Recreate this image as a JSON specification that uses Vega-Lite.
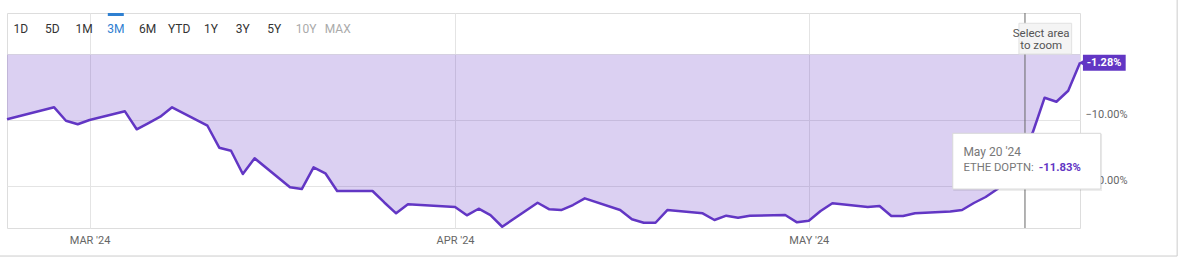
{
  "$schema": "https://vega.github.io/schema/vega-lite/v6.json",
  "width": 1073,
  "height": 215,
  "autosize": "none",
  "padding": {"left": 7, "top": 13, "right": 108, "bottom": 37},
  "background": "white",
  "config": {
    "view": {"stroke": "#dddddd", "strokeWidth": 1},
    "font": "Roboto",
    "axis": {"labelFont": "Roboto", "labelColor": "#666666", "labelFontSize": 11, "gridColor": "#e4e4e4", "domain": false, "ticks": false}
  },
  "datasets": {
    "series": [
      {"date": "2024-02-23", "value": -9.86},
      {"date": "2024-02-26", "value": -8.5},
      {"date": "2024-02-27", "value": -8.04},
      {"date": "2024-02-28", "value": -10.08},
      {"date": "2024-02-29", "value": -10.62},
      {"date": "2024-03-01", "value": -9.97},
      {"date": "2024-03-04", "value": -8.65},
      {"date": "2024-03-05", "value": -11.38},
      {"date": "2024-03-06", "value": -10.43},
      {"date": "2024-03-07", "value": -9.47},
      {"date": "2024-03-08", "value": -8.04},
      {"date": "2024-03-11", "value": -10.84},
      {"date": "2024-03-12", "value": -14.18},
      {"date": "2024-03-13", "value": -14.64},
      {"date": "2024-03-14", "value": -18.18},
      {"date": "2024-03-15", "value": -15.79},
      {"date": "2024-03-18", "value": -20.2},
      {"date": "2024-03-19", "value": -20.46},
      {"date": "2024-03-20", "value": -17.16},
      {"date": "2024-03-21", "value": -18.07},
      {"date": "2024-03-22", "value": -20.76},
      {"date": "2024-03-25", "value": -20.76},
      {"date": "2024-03-26", "value": -22.5},
      {"date": "2024-03-27", "value": -24.15},
      {"date": "2024-03-28", "value": -22.78},
      {"date": "2024-04-01", "value": -23.19},
      {"date": "2024-04-02", "value": -24.45},
      {"date": "2024-04-03", "value": -23.45},
      {"date": "2024-04-04", "value": -24.41},
      {"date": "2024-04-05", "value": -26.19},
      {"date": "2024-04-08", "value": -22.54},
      {"date": "2024-04-09", "value": -23.54},
      {"date": "2024-04-10", "value": -23.65},
      {"date": "2024-04-11", "value": -22.89},
      {"date": "2024-04-12", "value": -21.87},
      {"date": "2024-04-15", "value": -23.65},
      {"date": "2024-04-16", "value": -25.06},
      {"date": "2024-04-17", "value": -25.58},
      {"date": "2024-04-18", "value": -25.58},
      {"date": "2024-04-19", "value": -23.65},
      {"date": "2024-04-22", "value": -24.15},
      {"date": "2024-04-23", "value": -25.17},
      {"date": "2024-04-24", "value": -24.51},
      {"date": "2024-04-25", "value": -24.82},
      {"date": "2024-04-26", "value": -24.51},
      {"date": "2024-04-29", "value": -24.41},
      {"date": "2024-04-30", "value": -25.52},
      {"date": "2024-05-01", "value": -25.27},
      {"date": "2024-05-02", "value": -23.8},
      {"date": "2024-05-03", "value": -22.63},
      {"date": "2024-05-06", "value": -23.2},
      {"date": "2024-05-07", "value": -23.04},
      {"date": "2024-05-08", "value": -24.56},
      {"date": "2024-05-09", "value": -24.56},
      {"date": "2024-05-10", "value": -24.15},
      {"date": "2024-05-13", "value": -23.88},
      {"date": "2024-05-14", "value": -23.65},
      {"date": "2024-05-15", "value": -22.58},
      {"date": "2024-05-16", "value": -21.67},
      {"date": "2024-05-17", "value": -20.46},
      {"date": "2024-05-20", "value": -11.83},
      {"date": "2024-05-21", "value": -6.58},
      {"date": "2024-05-22", "value": -7.19},
      {"date": "2024-05-23", "value": -5.52},
      {"date": "2024-05-24", "value": -1.28}
    ],
    "buttons": [
      {"label": "1D", "state": "normal"},
      {"label": "5D", "state": "normal"},
      {"label": "1M", "state": "normal"},
      {"label": "3M", "state": "active"},
      {"label": "6M", "state": "normal"},
      {"label": "YTD", "state": "normal"},
      {"label": "1Y", "state": "normal"},
      {"label": "3Y", "state": "normal"},
      {"label": "5Y", "state": "normal"},
      {"label": "10Y", "state": "disabled"},
      {"label": "MAX", "state": "disabled"}
    ],
    "one": [{"k": 1}]
  },
  "layer": [
    {
      "layer": [
        {
          "data": {"name": "series"},
          "mark": {"type": "area", "color": "#6a3cc8", "opacity": 0.24},
          "encoding": {
            "x": {
              "field": "date", "type": "temporal", "title": null,
              "scale": {"type": "utc", "domain": [{"year": 2024, "month": 2, "date": 23, "utc": true}, {"year": 2024, "month": 5, "date": 24, "utc": true}]},
              "axis": {
                "values": [{"year": 2024, "month": 3, "date": 1, "utc": true}, {"year": 2024, "month": 4, "date": 1, "utc": true}, {"year": 2024, "month": 5, "date": 1, "utc": true}],
                "labelExpr": "upper(utcFormat(datum.value, \"%b '%y\"))",
                "grid": true, "labelPadding": 6
              }
            },
            "y": {
              "field": "value", "type": "quantitative", "title": null,
              "scale": {"domain": [-26.38, 6.29], "nice": false, "zero": false},
              "axis": {
                "orient": "right", "values": [0, -10, -20], "grid": true,
                "labelExpr": "datum.value == 0 ? '' : format(datum.value, '.2f') + '%'",
                "labelPadding": 5, "labelOffset": -6
              }
            },
            "y2": {"datum": 0}
          }
        },
        {
          "data": {"name": "series"},
          "mark": {"type": "line", "color": "#6236c4", "strokeWidth": 2.5, "strokeJoin": "round"},
          "encoding": {
            "x": {"field": "date", "type": "temporal"},
            "y": {"field": "value", "type": "quantitative"}
          }
        },
        {
          "data": {"name": "one"},
          "mark": {"type": "rule", "color": "#666666", "strokeWidth": 1},
          "encoding": {
            "x": {"datum": {"year": 2024, "month": 5, "date": 19, "hours": 8, "utc": true}, "type": "temporal"}
          }
        },
        {
          "data": {"name": "one"},
          "mark": {"type": "rect", "fill": "#f4f4f4", "stroke": "#e2e2e2", "strokeWidth": 1},
          "encoding": {
            "x": {"datum": {"year": 2024, "month": 5, "date": 18, "hours": 19, "minutes": 40, "utc": true}, "type": "temporal"},
            "x2": {"datum": {"year": 2024, "month": 5, "date": 23, "hours": 7, "utc": true}},
            "y": {"datum": 4.73},
            "y2": {"datum": 0.06}
          }
        },
        {
          "data": {"name": "one"},
          "mark": {"type": "text", "align": "center", "baseline": "middle", "fontSize": 11.5, "color": "#555555", "lineHeight": 12.3},
          "encoding": {
            "x": {"datum": {"year": 2024, "month": 5, "date": 20, "hours": 17, "utc": true}, "type": "temporal"},
            "y": {"datum": 3.1},
            "text": {"value": ["Select area", "to zoom"]}
          }
        },
        {
          "data": {"name": "series"},
          "transform": [{"filter": "datum.date == '2024-05-20'"}],
          "mark": {"type": "point", "filled": true, "color": "#6a3cc8", "opacity": 0.22, "size": 260},
          "encoding": {
            "x": {"field": "date", "type": "temporal"},
            "y": {"field": "value", "type": "quantitative"}
          }
        },
        {
          "data": {"name": "series"},
          "transform": [{"filter": "datum.date == '2024-05-20'"}],
          "mark": {"type": "point", "filled": true, "color": "#5b32bd", "opacity": 1, "size": 45},
          "encoding": {
            "x": {"field": "date", "type": "temporal"},
            "y": {"field": "value", "type": "quantitative"}
          }
        },
        {
          "data": {"name": "one"},
          "mark": {"type": "rect", "fill": "#000000", "opacity": 0.07},
          "encoding": {
            "x": {"datum": {"year": 2024, "month": 5, "date": 13, "hours": 6, "utc": true}, "type": "temporal"},
            "x2": {"datum": {"year": 2024, "month": 5, "date": 25, "hours": 21, "utc": true}},
            "y": {"datum": -12.1},
            "y2": {"datum": -20.75}
          }
        },
        {
          "data": {"name": "one"},
          "mark": {"type": "rect", "fill": "white", "stroke": "#d8d8d8", "strokeWidth": 1},
          "encoding": {
            "x": {"datum": {"year": 2024, "month": 5, "date": 13, "hours": 5, "utc": true}, "type": "temporal"},
            "x2": {"datum": {"year": 2024, "month": 5, "date": 25, "hours": 18, "minutes": 15, "utc": true}},
            "y": {"datum": -11.99},
            "y2": {"datum": -20.46}
          }
        },
        {
          "data": {"name": "one"},
          "mark": {"type": "text", "align": "left", "baseline": "middle", "fontSize": 12, "color": "#777777"},
          "encoding": {
            "x": {"datum": {"year": 2024, "month": 5, "date": 14, "hours": 2, "minutes": 40, "utc": true}, "type": "temporal"},
            "y": {"datum": -14.83},
            "text": {"value": "May 20 '24"}
          }
        },
        {
          "data": {"name": "one"},
          "mark": {"type": "text", "align": "left", "baseline": "middle", "fontSize": 11.3, "color": "#777777"},
          "encoding": {
            "x": {"datum": {"year": 2024, "month": 5, "date": 14, "hours": 2, "minutes": 40, "utc": true}, "type": "temporal"},
            "y": {"datum": -17.26},
            "text": {"value": "ETHE DOPTN:"}
          }
        },
        {
          "data": {"name": "one"},
          "mark": {"type": "text", "align": "left", "baseline": "middle", "fontSize": 11.3, "fontWeight": "bold", "color": "#6236c4"},
          "encoding": {
            "x": {"datum": {"year": 2024, "month": 5, "date": 20, "hours": 12, "utc": true}, "type": "temporal"},
            "y": {"datum": -17.26},
            "text": {"value": "-11.83%"}
          }
        },
        {
          "data": {"name": "one"},
          "mark": {"type": "rect", "fill": "#6236c4"},
          "encoding": {
            "x": {"datum": {"year": 2024, "month": 5, "date": 24, "hours": 6, "utc": true}, "type": "temporal"},
            "x2": {"datum": {"year": 2024, "month": 5, "date": 27, "hours": 21, "utc": true}},
            "y": {"datum": -0.06},
            "y2": {"datum": -2.5}
          }
        },
        {
          "data": {"name": "one"},
          "mark": {"type": "point", "shape": "triangle-left", "filled": true, "color": "#6236c4", "opacity": 1, "size": 90},
          "encoding": {
            "x": {"datum": {"year": 2024, "month": 5, "date": 24, "hours": 6, "utc": true}, "type": "temporal"},
            "y": {"datum": -1.28}
          }
        },
        {
          "data": {"name": "one"},
          "mark": {"type": "text", "align": "center", "baseline": "middle", "fontSize": 11, "fontWeight": "bold", "color": "white"},
          "encoding": {
            "x": {"datum": {"year": 2024, "month": 5, "date": 26, "hours": 1, "utc": true}, "type": "temporal"},
            "y": {"datum": -1.28},
            "text": {"value": "-1.28%"}
          }
        },
        {
          "data": {"name": "one"},
          "mark": {"type": "rule", "color": "#cccccc", "strokeWidth": 1},
          "encoding": {
            "x": {"datum": {"year": 2024, "month": 6, "date": 1, "hours": 5, "minutes": 45, "utc": true}, "type": "temporal"},
            "y": {"datum": 8.27},
            "y2": {"datum": -30.64}
          }
        },
        {
          "data": {"name": "one"},
          "mark": {"type": "rule", "color": "#cccccc", "strokeWidth": 1},
          "encoding": {
            "x": {"datum": {"year": 2024, "month": 2, "date": 22, "hours": 9, "minutes": 45, "utc": true}, "type": "temporal"},
            "x2": {"datum": {"year": 2024, "month": 6, "date": 1, "hours": 5, "minutes": 45, "utc": true}},
            "y": {"datum": -30.64}
          }
        }
      ]
    },
    {
      "data": {"name": "buttons"},
      "layer": [
        {
          "mark": {"type": "text", "align": "center", "baseline": "middle", "fontSize": 12},
          "encoding": {
            "x": {
              "field": "label", "type": "ordinal", "sort": null, "axis": null,
              "scale": {"type": "point", "padding": 0, "range": [13.7, 330.7]}
            },
            "y": {"datum": 3.86},
            "text": {"field": "label"},
            "color": {
              "field": "state", "type": "nominal", "legend": null,
              "scale": {"domain": ["normal", "active", "disabled"], "range": ["#333333", "#2f80d1", "#aaaaaa"]}
            },
            "fontWeight": {
              "field": "state", "type": "nominal", "legend": null,
              "scale": {"domain": ["normal", "active", "disabled"], "range": ["normal", "bold", "normal"]}
            }
          }
        },
        {
          "transform": [{"filter": "datum.state == 'active'"}],
          "mark": {"type": "tick", "orient": "horizontal", "color": "#2f80d1", "thickness": 3, "size": 16, "opacity": 1},
          "encoding": {
            "x": {"field": "label", "type": "ordinal", "sort": null},
            "y": {"datum": 6.06}
          }
        }
      ]
    }
  ],
  "resolve": {"scale": {"x": "independent"}}
}
